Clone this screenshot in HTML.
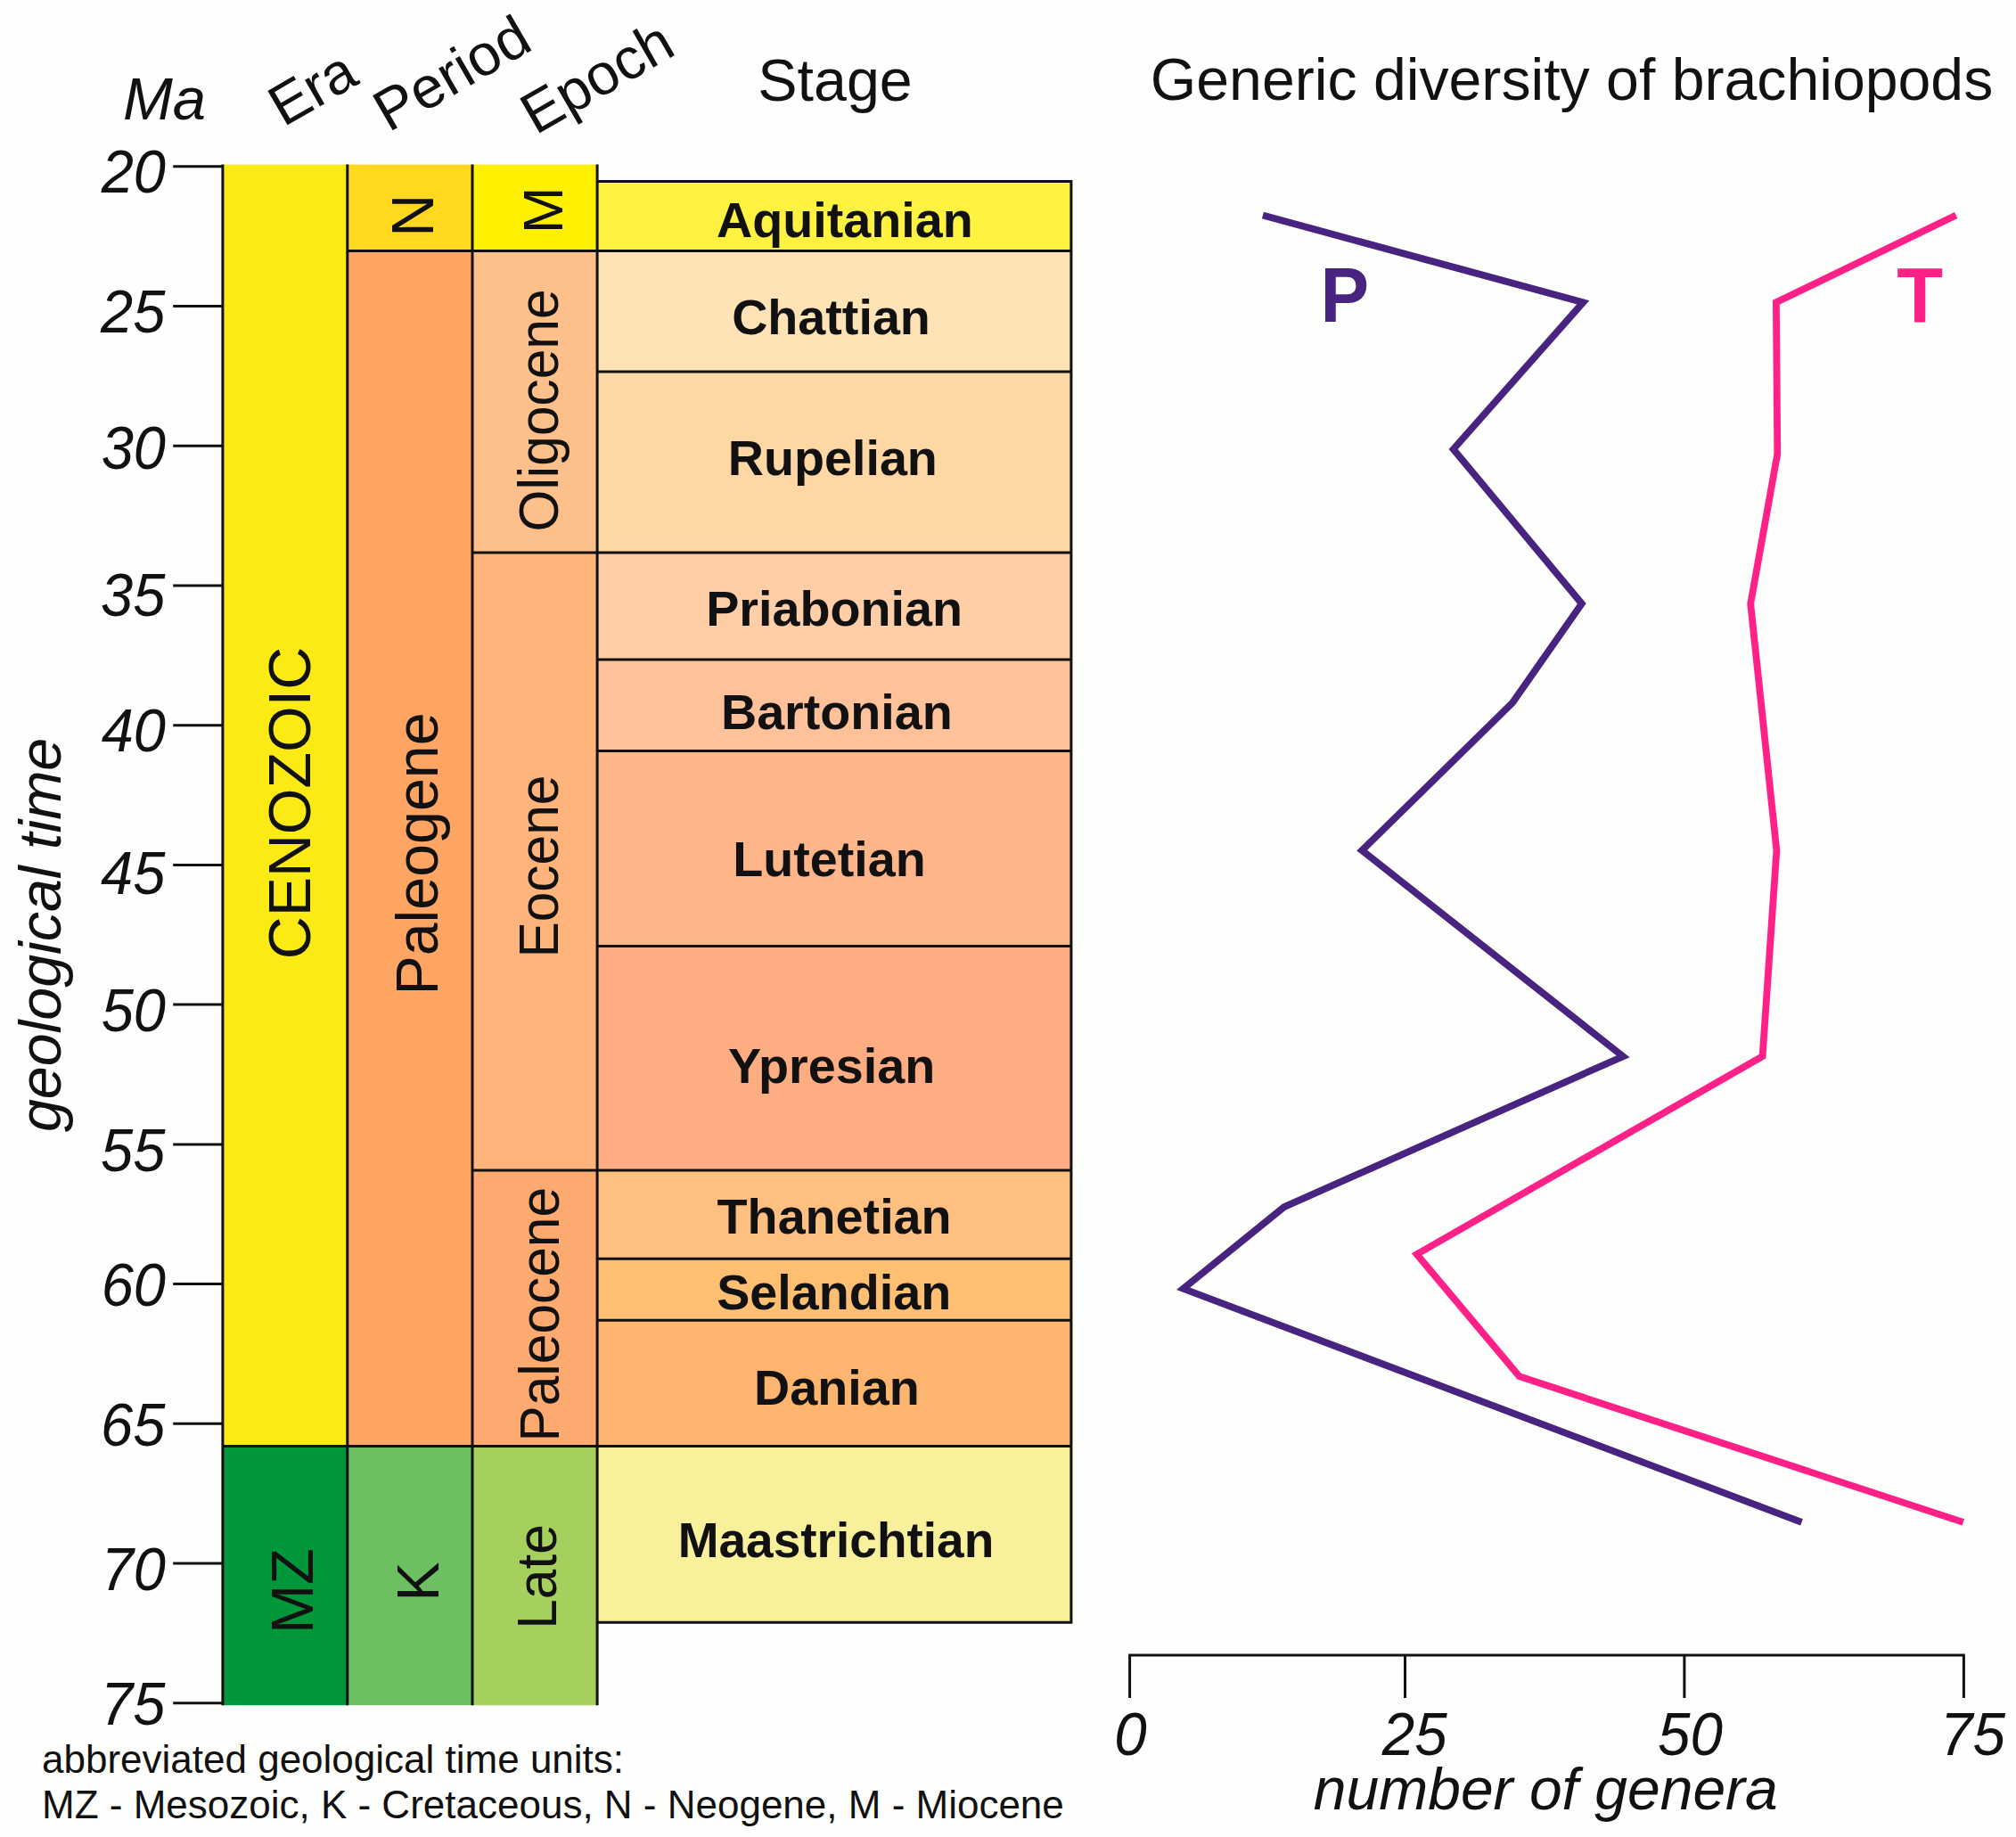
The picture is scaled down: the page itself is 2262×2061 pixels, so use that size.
<!DOCTYPE html>
<html><head><meta charset="utf-8"><title>Generic diversity of brachiopods</title>
<style>html,body{margin:0;padding:0;background:#fefefd}svg{display:block}text{font-family:"Liberation Sans",Arial,sans-serif;fill:#111}</style></head><body>
<svg width="2262" height="2061" viewBox="0 0 2262 2061">
<rect width="2262" height="2061" fill="#fefefd"/>
<rect x="249.9" y="184.6" width="139.9" height="1438.0" fill="#fcea14"/>
<rect x="249.9" y="1622.6" width="139.9" height="290.6" fill="#009639"/>
<rect x="389.8" y="184.6" width="140.2" height="97.0" fill="#ffd81f"/>
<rect x="389.8" y="281.6" width="140.2" height="1341.0" fill="#fea564"/>
<rect x="389.8" y="1622.6" width="140.2" height="290.6" fill="#6cc062"/>
<rect x="530.0" y="184.6" width="140.1" height="97.0" fill="#fff000"/>
<rect x="530.0" y="281.6" width="140.1" height="338.4" fill="#fec08a"/>
<rect x="530.0" y="620.0" width="140.1" height="693.0" fill="#feb47a"/>
<rect x="530.0" y="1313.0" width="140.1" height="309.6" fill="#fdaa70"/>
<rect x="530.0" y="1622.6" width="140.1" height="290.6" fill="#a5d05d"/>
<rect x="670.1" y="203.4" width="531.8" height="78.2" fill="#fff240"/>
<rect x="670.1" y="281.6" width="531.8" height="135.4" fill="#ffe2b6"/>
<rect x="670.1" y="417.0" width="531.8" height="203.0" fill="#ffd7a5"/>
<rect x="670.1" y="620.0" width="531.8" height="120.0" fill="#ffcda6"/>
<rect x="670.1" y="740.0" width="531.8" height="102.5" fill="#ffc199"/>
<rect x="670.1" y="842.5" width="531.8" height="219.0" fill="#ffb58a"/>
<rect x="670.1" y="1061.5" width="531.8" height="251.5" fill="#fead83"/>
<rect x="670.1" y="1313.0" width="531.8" height="99.2" fill="#ffbf80"/>
<rect x="670.1" y="1412.2" width="531.8" height="69.1" fill="#ffbf73"/>
<rect x="670.1" y="1481.3" width="531.8" height="141.3" fill="#feb570"/>
<rect x="670.1" y="1622.6" width="531.8" height="197.7" fill="#f8f09a"/>
<path d="M249.9 184.6L249.9 1913.2M389.8 184.6L389.8 1913.2M530.0 184.6L530.0 1913.2M670.1 184.6L670.1 1913.2M1201.9 202.0L1201.9 1821.7M389.8 281.6L1201.9 281.6M249.9 1622.6L1201.9 1622.6M530.0 620.0L1201.9 620.0M530.0 1313.0L1201.9 1313.0M670.1 203.4L1201.9 203.4M670.1 417.0L1201.9 417.0M670.1 740.0L1201.9 740.0M670.1 842.5L1201.9 842.5M670.1 1061.5L1201.9 1061.5M670.1 1412.2L1201.9 1412.2M670.1 1481.3L1201.9 1481.3M670.1 1820.3L1201.9 1820.3M194.2 186.8L249.9 186.8M194.2 343.5L249.9 343.5M194.2 500.2L249.9 500.2M194.2 657.0L249.9 657.0M194.2 813.7L249.9 813.7M194.2 970.4L249.9 970.4M194.2 1127.1L249.9 1127.1M194.2 1283.9L249.9 1283.9M194.2 1440.6L249.9 1440.6M194.2 1597.3L249.9 1597.3M194.2 1754.0L249.9 1754.0M194.2 1910.8L249.9 1910.8M1266.2 1857.0L2204.8 1857.0M1267.6 1857.0L1267.6 1905.0M1576.5 1857.0L1576.5 1905.0M1889.9 1857.0L1889.9 1905.0M2203.4 1857.0L2203.4 1905.0" fill="none" stroke="#111" stroke-width="3"/>
<polyline points="1416.9,241.5 1776.2,339.3 1630.7,504.0 1774.8,677.3 1697.0,788.5 1528.1,954.1 1821.1,1185.2 1440.8,1354.1 1327.7,1445.8 2021.5,1707.9" fill="none" stroke="#482380" stroke-width="7.8" stroke-linejoin="miter" stroke-miterlimit="10"/>
<polyline points="2194.7,241.5 1992.9,339.3 1994.3,509.2 1964.2,677.3 1993.4,954.1 1977.6,1185.2 1589.7,1407.2 1704.7,1544.2 2202.8,1707.9" fill="none" stroke="#ff2187" stroke-width="7.8" stroke-linejoin="miter" stroke-miterlimit="10"/>
<text transform="translate(1481.6 361) scale(0.935 1)" font-size="87.5" font-weight="bold" style="fill:#482380">P</text>
<text transform="translate(2128.3 361) scale(0.97 1)" font-size="87.5" font-weight="bold" style="fill:#ff2187">T</text>
<text x="947.9" y="265.7" font-size="55.7" font-weight="bold" text-anchor="middle">Aquitanian</text>
<text x="932.5" y="375.2" font-size="55.7" font-weight="bold" text-anchor="middle">Chattian</text>
<text x="934.3" y="533.3" font-size="55.7" font-weight="bold" text-anchor="middle">Rupelian</text>
<text x="936.1" y="701.7" font-size="55.7" font-weight="bold" text-anchor="middle">Priabonian</text>
<text x="938.9" y="818" font-size="55.7" font-weight="bold" text-anchor="middle">Bartonian</text>
<text x="930.5" y="983.4" font-size="55.7" font-weight="bold" text-anchor="middle">Lutetian</text>
<text x="933.1" y="1214.6" font-size="55.7" font-weight="bold" text-anchor="middle">Ypresian</text>
<text x="936.1" y="1384.4" font-size="55.7" font-weight="bold" text-anchor="middle">Thanetian</text>
<text x="935.7" y="1469.4" font-size="55.7" font-weight="bold" text-anchor="middle">Selandian</text>
<text x="938.9" y="1576.3" font-size="55.7" font-weight="bold" text-anchor="middle">Danian</text>
<text x="938" y="1747.4" font-size="55" font-weight="bold" text-anchor="middle">Maastrichtian</text>
<text transform="translate(348.4 1076.3) rotate(-90) scale(1 1)" font-size="66.4" text-anchor="start">CENOZOIC</text>
<text transform="translate(350.6 1833) rotate(-90) scale(1 1)" font-size="66.4" text-anchor="start">MZ</text>
<text transform="translate(490.6 1116.5) rotate(-90) scale(1 1)" font-size="66.3" text-anchor="start">Paleogene</text>
<text transform="translate(491.5 1796.8) rotate(-90) scale(1 1)" font-size="66.4" text-anchor="start">K</text>
<text transform="translate(486.4 265.8) rotate(-90) scale(1 1)" font-size="66.4" text-anchor="start">N</text>
<text transform="translate(631.3 262.3) rotate(-90) scale(1 1)" font-size="63.3" text-anchor="start">M</text>
<text transform="translate(626.2 596.6) rotate(-90) scale(0.972 1)" font-size="62.2" text-anchor="start">Oligocene</text>
<text transform="translate(626.2 1074.6) rotate(-90) scale(0.972 1)" font-size="62.2" text-anchor="start">Eocene</text>
<text transform="translate(626.6 1617.6) rotate(-90) scale(0.972 1)" font-size="62.2" text-anchor="start">Paleocene</text>
<text transform="translate(624.2 1827.8) rotate(-90) scale(0.972 1)" font-size="62.2" text-anchor="start">Late</text>
<text transform="translate(68 1270) rotate(-90) scale(1 1)" font-size="66.3" text-anchor="start" font-style="italic">geological time</text>
<text transform="translate(186.0 216.0) scale(0.985 1.035)" font-size="66" font-style="italic" text-anchor="end">20</text>
<text transform="translate(185.3 372.6) scale(0.985 1.035)" font-size="66" font-style="italic" text-anchor="end">25</text>
<text transform="translate(186.0 526.0) scale(0.985 1.035)" font-size="66" font-style="italic" text-anchor="end">30</text>
<text transform="translate(185.3 691.0999999999999) scale(0.985 1.035)" font-size="66" font-style="italic" text-anchor="end">35</text>
<text transform="translate(186.0 842.5999999999999) scale(0.985 1.035)" font-size="66" font-style="italic" text-anchor="end">40</text>
<text transform="translate(185.3 1002.8) scale(0.985 1.035)" font-size="66" font-style="italic" text-anchor="end">45</text>
<text transform="translate(186.0 1157.3) scale(0.985 1.035)" font-size="66" font-style="italic" text-anchor="end">50</text>
<text transform="translate(185.3 1313.8) scale(0.985 1.035)" font-size="66" font-style="italic" text-anchor="end">55</text>
<text transform="translate(186.0 1465.3) scale(0.985 1.035)" font-size="66" font-style="italic" text-anchor="end">60</text>
<text transform="translate(185.3 1622.3) scale(0.985 1.035)" font-size="66" font-style="italic" text-anchor="end">65</text>
<text transform="translate(186.0 1783.8) scale(0.985 1.035)" font-size="66" font-style="italic" text-anchor="end">70</text>
<text transform="translate(185.3 1935.3) scale(0.985 1.035)" font-size="66" font-style="italic" text-anchor="end">75</text>
<text x="138" y="133.7" font-size="67" font-style="italic">Ma</text>
<text transform="translate(318 143) rotate(-30)" font-size="64.5">Era</text>
<text transform="translate(436 149) rotate(-30)" font-size="65.5">Period</text>
<text transform="translate(601 152) rotate(-30)" font-size="65">Epoch</text>
<text x="850.3" y="112.8" font-size="66.4">Stage</text>
<text x="1290.8" y="111.5" font-size="66.2">Generic diversity of brachiopods</text>
<text transform="translate(1268.4 1968.8) scale(0.985 1.04)" font-size="66.5" font-style="italic" text-anchor="middle">0</text>
<text transform="translate(1587.2 1968.8) scale(0.985 1.04)" font-size="66.5" font-style="italic" text-anchor="middle">25</text>
<text transform="translate(1896.5 1968.8) scale(0.985 1.04)" font-size="66.5" font-style="italic" text-anchor="middle">50</text>
<text transform="translate(2213.5 1968.8) scale(0.985 1.04)" font-size="66.5" font-style="italic" text-anchor="middle">75</text>
<text x="1734.3" y="2030.2" font-size="66" font-style="italic" text-anchor="middle">number of genera</text>
<text x="47" y="1989.3" font-size="44">abbreviated geological time units:</text>
<text x="47" y="2040" font-size="44">MZ - Mesozoic, K - Cretaceous, N - Neogene, M - Miocene</text>
</svg></body></html>
